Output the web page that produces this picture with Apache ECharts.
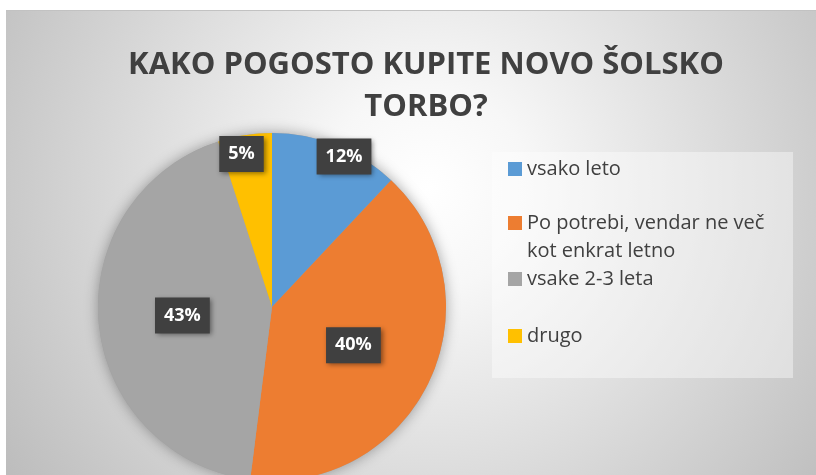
<!DOCTYPE html>
<html>
<head>
<meta charset="utf-8">
<script src="https://cdn.jsdelivr.net/npm/echarts@6/dist/echarts.min.js"></script>
<style>
  html, body { margin: 0; padding: 0; background: #ffffff; }
  #main { position: absolute; left: 6px; top: 10px; width: 810px; height: 465px; border-top: 1px solid #c2c2c2; }
</style>
</head>
<body>
<div id="main"></div>
<script>
// podatki
var categories = ['vsako leto', 'Po potrebi, vendar ne več kot enkrat letno', 'vsake 2-3 leta', 'drugo'];
var values = [12, 40, 43, 5];
var titleText = 'KAKO POGOSTO KUPITE NOVO ŠOLSKO\nTORBO?';

var colors = ['#5B9BD5', '#ED7D31', '#A5A5A5', '#FFC000'];
// katere oznake so ob robu (ostale na sredini)
var outerLabel = [true, false, false, true];
// ročni zamik oznak ob robu (kot v Excelu)
var outerShift = [[12, 1], [0, 0], [0, 0], [-5, 8]];

var myChart = echarts.init(document.getElementById('main'));

var labelStyle = {
    show: true,
    position: 'inside',
    formatter: '{c}%',
    color: '#ffffff',
    fontFamily: 'Open Sans',
    fontWeight: 'bold',
    fontSize: 18,
    lineHeight: 20,
    backgroundColor: '#404040',
    padding: [8, 9, 8, 9],
    shadowBlur: 5,
    shadowOffsetX: 2,
    shadowOffsetY: 2,
    shadowColor: 'rgba(0,0,0,0.45)'
};

var innerData = categories.map(function (name, i) {
    return {
        name: name,
        value: values[i],
        itemStyle: { color: colors[i] },
        label: { show: !outerLabel[i] }
    };
});
var outerData = categories.map(function (name, i) {
    return {
        name: name,
        value: values[i],
        itemStyle: { color: 'rgba(0,0,0,0)' },
        label: { show: outerLabel[i] }
    };
});

var legendText = {
    fontFamily: 'Open Sans',
    fontSize: 20,
    color: '#404040',
    lineHeight: 28
};
var legendTops = [144, 170, 254, 311];
var legends = categories.map(function (name, i) {
    return {
        data: [name],
        orient: 'vertical',
        left: 502,
        top: legendTops[i],
        padding: 0,
        itemWidth: 14,
        itemHeight: 14,
        icon: 'rect',
        selectedMode: false,
        // dolgo ime v dveh vrsticah, prva poravnana z ikono
        formatter: function (n) {
            return n.indexOf(' kot') > 0 ? '\n' + n.replace(' kot', '\nkot') : n;
        },
        textStyle: legendText
    };
});

var total = values.reduce(function (a, b) { return a + b; }, 0);

option = {
    backgroundColor: {
        type: 'radial', x: 0.52, y: 0.38, r: 1.1,
        colorStops: [
            { offset: 0, color: '#ffffff' },
            { offset: 0.2, color: '#f7f7f7' },
            { offset: 1, color: '#bcbcbc' }
        ]
    },
    color: colors,
    title: {
        text: titleText,
        left: 420,
        textAlign: 'center',
        top: 33,
        padding: 0,
        textStyle: {
            fontFamily: 'Open Sans',
            fontWeight: 'bold',
            fontSize: 31,
            lineHeight: 42,
            color: '#404040'
        }
    },
    graphic: [{
        type: 'rect',
        left: 486, top: 141,
        shape: { width: 301, height: 226 },
        style: { fill: 'rgba(255,255,255,0.4)' },
        z: -1
    }],
    legend: legends,
    series: [{
        // senca pod tortnim grafikonom
        type: 'pie',
        name: 'senca',
        center: [266, 296],
        radius: [0, 174],
        silent: true,
        z: 1,
        label: { show: false },
        labelLine: { show: false },
        data: [{ name: 'senca', value: total, itemStyle: {
            color: '#a0a0a0', shadowBlur: 14, shadowColor: 'rgba(0,0,0,0.35)'
        } }]
    }, {
        type: 'pie',
        name: 'odgovori',
        center: [266, 296],
        radius: [0, 174],
        startAngle: 90,
        clockwise: true,
        z: 2,
        label: labelStyle,
        labelLine: { show: false },
        emphasis: { disabled: true },
        data: innerData
    }, {
        type: 'pie',
        name: 'oznake',
        center: [266, 296],
        radius: [146, 174],
        startAngle: 90,
        clockwise: true,
        silent: true,
        z: 3,
        label: labelStyle,
        labelLine: { show: false },
        labelLayout: function (p) {
            var s = outerShift[p.dataIndex];
            return { dx: s[0], dy: s[1] };
        },
        emphasis: { disabled: true },
        data: outerData
    }]
};

myChart.setOption(option);
</script>
</body>
</html>
